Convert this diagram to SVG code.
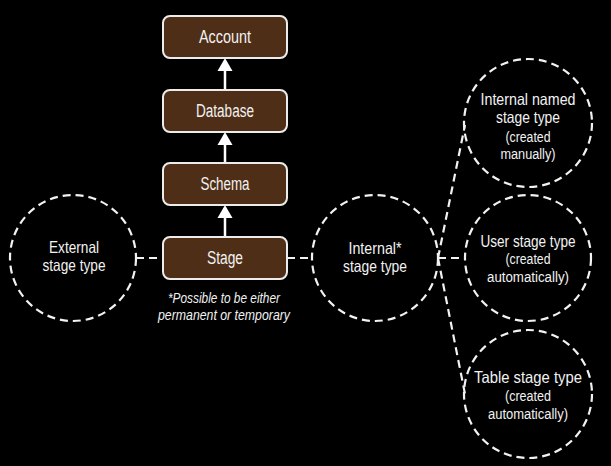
<svg xmlns="http://www.w3.org/2000/svg" width="611" height="466" viewBox="0 0 611 466">
<defs>
<style>
.bg{fill:#000}
.box{fill:#4f2e17;stroke:#ececec;stroke-width:2}
.circ{fill:none;stroke:#f2f2f2;stroke-width:2.2;stroke-dasharray:8 5}
.dash{fill:none;stroke:#f2f2f2;stroke-width:2.2;stroke-dasharray:8 5}
.arr{stroke:#fff;stroke-width:2.5;fill:none}
.head{fill:#fff}
text{font-family:"Liberation Sans","DejaVu Sans",sans-serif;fill:#f2f2f2;text-anchor:middle}
.b{font-size:18px}
.t{font-size:16.5px}
.s{font-size:15.5px}
.f{font-size:15px;font-style:italic}
</style>
</defs>
<rect class="bg" x="0" y="0" width="611" height="466"/>
<g id="connectors">
<line class="arr" x1="225" y1="90" x2="225" y2="68"/>
<polygon class="head" points="225,58 217.5,71 232.5,71"/>
<line class="arr" x1="225" y1="163" x2="225" y2="142"/>
<polygon class="head" points="225,132 217.5,145 232.5,145"/>
<line class="arr" x1="225" y1="237" x2="225" y2="215"/>
<polygon class="head" points="225,205 217.5,218 232.5,218"/>
<line class="dash" x1="136" y1="258" x2="163" y2="258"/>
<line class="dash" x1="287" y1="258" x2="312" y2="258"/>
<line class="dash" x1="438" y1="258" x2="465" y2="258"/>
<line class="dash" x1="438" y1="258" x2="465" y2="125"/>
<line class="dash" x1="438" y1="258" x2="465" y2="394"/>
</g>
<g id="account">
<rect class="box" x="163" y="16" width="124" height="42" rx="7"/>
<text class="b" x="225" y="43" textLength="52" lengthAdjust="spacingAndGlyphs">Account</text>
</g>
<g id="database">
<rect class="box" x="163" y="90" width="124" height="42" rx="7"/>
<text class="b" x="225" y="117" textLength="58" lengthAdjust="spacingAndGlyphs">Database</text>
</g>
<g id="schema">
<rect class="box" x="163" y="163" width="124" height="42" rx="7"/>
<text class="b" x="225" y="190" textLength="49" lengthAdjust="spacingAndGlyphs">Schema</text>
</g>
<g id="stage">
<rect class="box" x="163" y="237" width="124" height="42" rx="7"/>
<text class="b" x="225" y="264" textLength="36" lengthAdjust="spacingAndGlyphs">Stage</text>
</g>
<g id="footnote">
<text class="f" x="224" y="303" textLength="112" lengthAdjust="spacingAndGlyphs">*Possible to be either</text>
<text class="f" x="224" y="320" textLength="132" lengthAdjust="spacingAndGlyphs">permanent or temporary</text>
</g>
<g id="external">
<circle class="circ" cx="73" cy="258" r="63"/>
<text class="t" x="74" y="253" textLength="50" lengthAdjust="spacingAndGlyphs">External</text>
<text class="t" x="74" y="271" textLength="63" lengthAdjust="spacingAndGlyphs">stage type</text>
</g>
<g id="internal">
<circle class="circ" cx="375" cy="258" r="63"/>
<text class="t" x="375" y="254" textLength="53" lengthAdjust="spacingAndGlyphs">Internal*</text>
<text class="t" x="375" y="272" textLength="64" lengthAdjust="spacingAndGlyphs">stage type</text>
</g>
<g id="named">
<circle class="circ" cx="528" cy="123" r="64"/>
<text class="t" x="528" y="105" textLength="95" lengthAdjust="spacingAndGlyphs">Internal named</text>
<text class="t" x="528" y="123" textLength="64" lengthAdjust="spacingAndGlyphs">stage type</text>
<text class="s" x="528" y="142" textLength="45" lengthAdjust="spacingAndGlyphs">(created</text>
<text class="s" x="528" y="159" textLength="55" lengthAdjust="spacingAndGlyphs">manually)</text>
</g>
<g id="user">
<circle class="circ" cx="528" cy="258" r="63"/>
<text class="t" x="528" y="247" textLength="95" lengthAdjust="spacingAndGlyphs">User stage type</text>
<text class="s" x="528" y="264" textLength="45" lengthAdjust="spacingAndGlyphs">(created</text>
<text class="s" x="528" y="282" textLength="82" lengthAdjust="spacingAndGlyphs">automatically)</text>
</g>
<g id="table">
<circle class="circ" cx="528" cy="394" r="64"/>
<text class="t" x="528" y="383" textLength="108" lengthAdjust="spacingAndGlyphs">Table stage type</text>
<text class="s" x="528" y="401" textLength="46" lengthAdjust="spacingAndGlyphs">(created</text>
<text class="s" x="528" y="419" textLength="80" lengthAdjust="spacingAndGlyphs">automatically)</text>
</g>
</svg>
